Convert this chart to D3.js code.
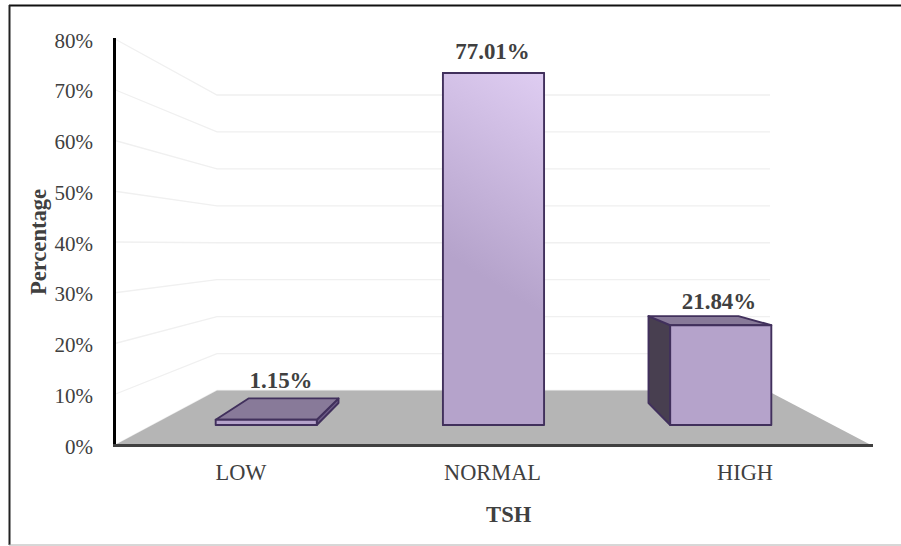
<!DOCTYPE html>
<html>
<head>
<meta charset="utf-8">
<script src="https://cdn.jsdelivr.net/npm/d3@7/dist/d3.min.js"></script>
<style>
html, body { margin: 0; padding: 0; background: #fff; }
svg { display: block; }
text { font-family: "Liberation Serif", serif; fill: #404040; }
</style>
</head>
<body>
<svg id="chart" width="901" height="546"></svg>
<script>
const categories = ["LOW", "NORMAL", "HIGH"];
const values = [1.15, 77.01, 21.84];
const valueLabels = ["1.15%", "77.01%", "21.84%"];
const ticks = [0, 10, 20, 30, 40, 50, 60, 70, 80];

const svg = d3.select("#chart");

// Simulated 3D box: axis plane, back wall, and the front and rear planes of the bars.
const yAxisPlane = d3.scaleLinear().domain([0, 80]).range([445, 39]);
const yWall = d3.scaleLinear().domain([0, 80]).range([390.5, 95]);
const yBarFront = d3.scaleLinear().domain([0, 80]).range([425, 59.4]);
const yBarBack = d3.scaleLinear().domain([0, 80]).range([403, 84.6]);
const xBarFront = d3.scaleBand().domain(categories).range([152.5, 834.5]).paddingInner(0.555).paddingOuter(0.278);
const xBarBack = d3.scaleBand().domain(categories).range([193.5, 793.5]).paddingInner(0.55).paddingOuter(0.275);

const wallLeft = 217, wallRight = 770, floorBackRight = 767, axisX = 115, floorRight = 871;

const defs = svg.append("defs");
const grad = defs.append("linearGradient").attr("id", "barFill")
  .attr("gradientUnits", "userSpaceOnUse")
  .attr("x1", 550).attr("y1", 75).attr("x2", 440).attr("y2", 250);
grad.append("stop").attr("offset", 0).attr("stop-color", "#dfcdf2");
grad.append("stop").attr("offset", 1).attr("stop-color", "#b5a3cb");

// Outer frame: dark top and left rules, a lighter bottom rule, open on the right
const frame = svg.append("g");
frame.append("line").attr("x1", 9).attr("x2", 901).attr("y1", 5.5).attr("y2", 5.5)
  .attr("stroke", "#111").attr("stroke-width", 2);
frame.append("line").attr("x1", 9.5).attr("x2", 9.5).attr("y1", 5).attr("y2", 545)
  .attr("stroke", "#222").attr("stroke-width", 2);
frame.append("line").attr("x1", 9).attr("x2", 901).attr("y1", 545).attr("y2", 545)
  .attr("stroke", "#b0b0b0").attr("stroke-width", 1.2);

// Gridlines bend from the side wall onto the back wall
const gridLine = d3.line();
svg.append("g").selectAll("path").data(ticks).join("path")
  .attr("d", t => gridLine([[axisX, yAxisPlane(t)], [wallLeft, yWall(t)], [wallRight, yWall(t)]]))
  .attr("fill", "none").attr("stroke", "#f0f0f0").attr("stroke-width", 1.3);

// Floor
svg.append("path")
  .attr("d", gridLine([[axisX, yAxisPlane(0)], [wallLeft, yWall(0)], [floorBackRight, yWall(0)], [floorRight, yAxisPlane(0)]]) + "Z")
  .attr("fill", "#b5b5b5");

// Bars, built as side, top and front faces
const barStroke = "#41305c";
const bars = svg.append("g").selectAll("g").data(categories).join("g")
  .attr("stroke", barStroke).attr("stroke-width", 1.9).attr("stroke-linejoin", "round");

bars.each(function (c, i) {
  const g = d3.select(this);
  const v = values[i];
  const fl = xBarFront(c), fr = fl + xBarFront.bandwidth();
  const bl = xBarBack(c), br = bl + xBarBack.bandwidth();
  const ft = yBarFront(v), fb = yBarFront(0);
  const bt = yBarBack(v), bb = yBarBack(0);
  // Whichever side faces the viewpoint is visible
  const side = i === 0
    ? [[fr, ft], [br, bt], [br, bb], [fr, fb]]
    : [[fl, ft], [bl, bt], [bl, bb], [fl, fb]];
  g.append("path").attr("d", gridLine(side) + "Z").attr("fill", i === 0 ? "#6b5a85" : "#483f50");
  g.append("path").attr("d", gridLine([[fl, ft], [bl, bt], [br, bt], [fr, ft]]) + "Z").attr("fill", "#887a99");
  g.append("rect").attr("x", fl).attr("y", ft).attr("width", fr - fl).attr("height", fb - ft)
    .attr("fill", i === 1 ? "url(#barFill)" : "#b5a3cb");
});

// Axis lines
svg.append("line").attr("x1", 114.5).attr("x2", 114.5).attr("y1", 38).attr("y2", 447)
  .attr("stroke", "#000").attr("stroke-width", 3);
svg.append("line").attr("x1", 113).attr("x2", 873).attr("y1", 445.5).attr("y2", 445.5)
  .attr("stroke", "#404040").attr("stroke-width", 3);

// Y tick labels
const yAxis = d3.axisLeft(yAxisPlane).tickValues(ticks).tickFormat(d => d + "%").tickSize(0).tickPadding(0);
const yG = svg.append("g").attr("transform", "translate(93,1.5)").call(yAxis);
yG.select(".domain").remove();
yG.selectAll("text").attr("font-size", 21).style("font-family", '"Liberation Serif", serif').attr("fill", "#404040");

// Category labels
svg.append("g").selectAll("text").data(categories).join("text")
  .attr("x", (c, i) => [241, 492.5, 745][i])
  .attr("y", 479.5).attr("text-anchor", "middle").attr("font-size", 22.4)
  .text(c => c);

// Value labels
svg.append("g").selectAll("text").data(categories).join("text")
  .attr("x", (c, i) => [281, 492.5, 719][i])
  .attr("y", (c, i) => [388, 58.5, 309][i])
  .attr("text-anchor", "middle").attr("font-size", 22.9).attr("font-weight", "bold")
  .text((c, i) => valueLabels[i]);

// Axis titles
svg.append("text").attr("x", 508.7).attr("y", 522).attr("text-anchor", "middle")
  .attr("font-size", 22.6).attr("font-weight", "bold").text("TSH");
svg.append("text").attr("transform", "translate(46,242) rotate(-90)").attr("text-anchor", "middle")
  .attr("font-size", 22.6).attr("font-weight", "bold").text("Percentage");
</script>
</body>
</html>
